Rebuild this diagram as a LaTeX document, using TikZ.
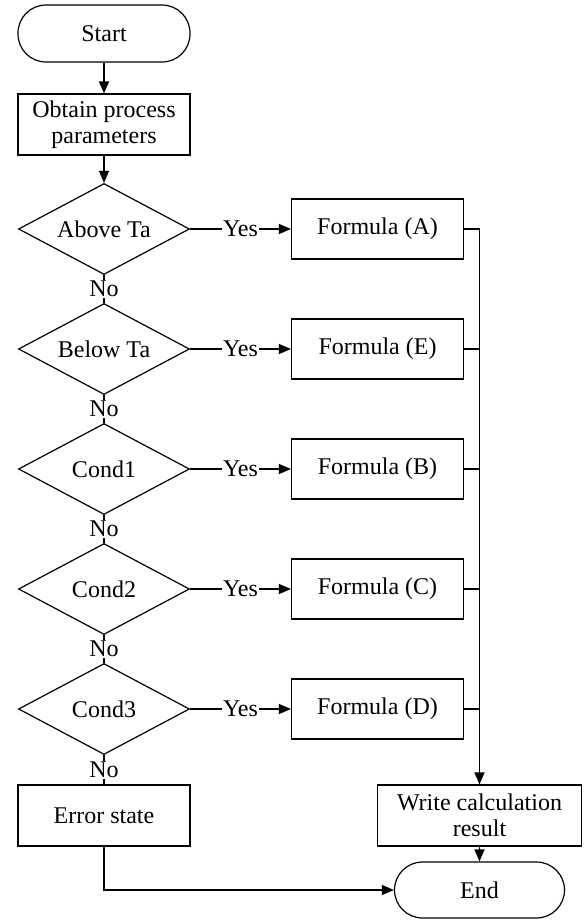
\documentclass[tikz,border=0pt]{standalone}
\usepackage{fontspec}
\setmainfont{Liberation Serif}
\usetikzlibrary{shapes.geometric,arrows.meta}
\begin{document}
\begin{tikzpicture}[x=1pt,y=-1pt,
 base/.style={draw,line width=1.2pt,font=\fontsize{24}{26.5}\selectfont,inner sep=0pt,align=center},
 term/.style={base,rectangle,rounded corners=28pt,minimum width=172pt,minimum height=57pt},
 procbox/.style={base,rectangle,minimum width=172pt,minimum height=61pt},
 decision/.style={base,diamond,minimum width=171pt,minimum height=91pt},
 conn/.style={line width=1.2pt},
 arr/.style={conn,-{Triangle[length=12pt,width=10pt]}},
 lbl/.style={fill=white,inner sep=1pt,font=\fontsize{24}{26.5}\selectfont}]
\useasboundingbox (0,0) rectangle (584,921);
\node[term] (start) at (104,33.5) {Start};
\node[procbox] (obtain) at (104,124.5) {Obtain process\\parameters};
\node[decision] (d1) at (104,229) {\makebox[0pt]{Above Ta}};
\node[decision] (d2) at (104,349) {\makebox[0pt]{Below Ta}};
\node[decision] (d3) at (104,469) {\makebox[0pt]{Cond1}};
\node[decision] (d4) at (104,589) {\makebox[0pt]{Cond2}};
\node[decision] (d5) at (104,709) {\makebox[0pt]{Cond3}};
\node[procbox,minimum height=60pt] (f1) at (377.5,229) {Formula (A)};
\node[procbox,minimum height=60pt] (f2) at (377.5,349) {Formula (E)};
\node[procbox,minimum height=60pt] (f3) at (377.5,469) {Formula (B)};
\node[procbox,minimum height=60pt] (f4) at (377.5,589) {Formula (C)};
\node[procbox,minimum height=60pt] (f5) at (377.5,709) {Formula (D)};
\node[procbox] (error) at (104,815.5) {Error state};
\node[procbox,minimum width=204pt] (write) at (479.5,815.5) {Write calculation\\result};
\node[term,minimum width=170pt,minimum height=56pt] (end) at (479.5,890) {End};
\draw[arr] (start) -- (obtain);
\draw[arr] (obtain) -- (d1);
\draw[conn] (d1) -- node[lbl]{No} (d2);
\draw[conn] (d2) -- node[lbl]{No} (d3);
\draw[conn] (d3) -- node[lbl]{No} (d4);
\draw[conn] (d4) -- node[lbl]{No} (d5);
\draw[conn] (d5) -- node[lbl]{No} (error);
\draw[arr] (d1.east) -- node[lbl]{Yes} (f1.west);
\draw[arr] (d2.east) -- node[lbl]{Yes} (f2.west);
\draw[arr] (d3.east) -- node[lbl]{Yes} (f3.west);
\draw[arr] (d4.east) -- node[lbl]{Yes} (f4.west);
\draw[arr] (d5.east) -- node[lbl]{Yes} (f5.west);
\draw[arr] (f1.east) -| (write.north);
\draw[conn] (f2.east) -- (f2.east -| write.north);
\draw[conn] (f3.east) -- (f3.east -| write.north);
\draw[conn] (f4.east) -- (f4.east -| write.north);
\draw[conn] (f5.east) -- (f5.east -| write.north);
\draw[arr] (write) -- (end);
\draw[arr] (error.south) |- (end.west);
\end{tikzpicture}
\end{document}
